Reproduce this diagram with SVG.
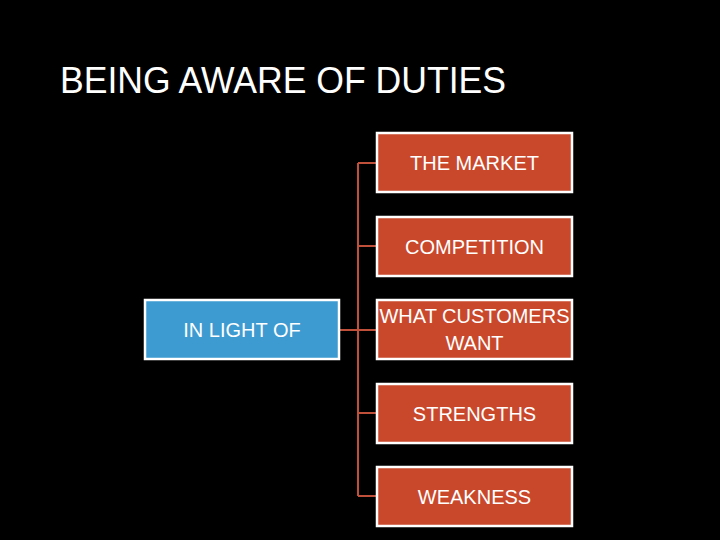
<svg xmlns="http://www.w3.org/2000/svg" width="720" height="540" viewBox="0 0 720 540">
<style>
.box{fill:#C9482C;stroke:#FFFFFF;stroke-width:2.5}
.root{fill:#3D9BD1;stroke:#FFFFFF;stroke-width:2.5}
.lbl{font-family:"Liberation Sans",Arial,sans-serif;font-size:20px;fill:#FFFFFF;text-anchor:middle}
.conn{stroke:#C0503A;stroke-width:2;fill:none}
</style>
<rect x="0" y="0" width="720" height="540" fill="#000000"/>
<text x="60" y="93" font-family="'Liberation Sans',Arial,sans-serif" font-size="36" fill="#FFFFFF" textLength="446" lengthAdjust="spacingAndGlyphs">BEING AWARE OF DUTIES</text>
<g id="connectors">
<path class="conn" d="M358,163 V496"/>
<path class="conn" d="M339,330 H377"/>
<path class="conn" d="M358,163 H377"/>
<path class="conn" d="M358,246 H377"/>
<path class="conn" d="M358,413 H377"/>
<path class="conn" d="M358,496 H377"/>
</g>
<g id="in-light-of">
<rect class="root" x="145" y="300" width="194" height="59"/>
<text class="lbl" x="242" y="337">IN LIGHT OF</text>
</g>
<g id="the-market">
<rect class="box" x="377" y="133" width="195" height="59"/>
<text class="lbl" x="474.5" y="170">THE MARKET</text>
</g>
<g id="competition">
<rect class="box" x="377" y="217" width="195" height="59"/>
<text class="lbl" x="474.5" y="254">COMPETITION</text>
</g>
<g id="what-customers-want">
<rect class="box" x="377" y="300" width="195" height="59"/>
<text class="lbl" x="474.5" y="323" font-size="19.5">WHAT CUSTOMERS</text>
<text class="lbl" x="474.5" y="350">WANT</text>
</g>
<g id="strengths">
<rect class="box" x="377" y="384" width="195" height="59"/>
<text class="lbl" x="474.5" y="421">STRENGTHS</text>
</g>
<g id="weakness">
<rect class="box" x="377" y="467" width="195" height="59"/>
<text class="lbl" x="474.5" y="504">WEAKNESS</text>
</g>
</svg>
